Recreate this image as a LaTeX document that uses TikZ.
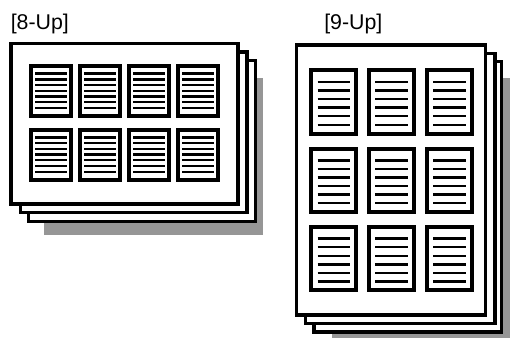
\documentclass[tikz,border=0pt]{standalone}
\usepackage{fontspec}
\setmainfont{Liberation Sans}
\definecolor{shadowgray}{RGB}{150,150,150}
\tikzset{
  sheet/.style={draw=black, fill=white, line width=2.6pt},
  shadowbox/.style={fill=shadowgray, draw=none},
  minipage/.style={draw=black, fill=white, line width=3pt},
  textline/.style={draw=black, line width=1.8pt},
  title/.style={anchor=base west, inner sep=0pt, font=\fontsize{16}{19}\selectfont}
}
\begin{document}
\begin{tikzpicture}[x=0.75pt, y=-0.75pt]
\useasboundingbox (0,0) rectangle (510,338);
% titles
\node[title] (t8) at (10.5,29.5) {[8-Up]};
\node[title] (t9) at (324,29.5) {[9-Up]};
% ---- 8-Up stack ----
\fill[shadowbox] (44.3,78.3) rectangle (262.7,235);
\draw[sheet] (28.7,60.3) rectangle (255.7,221.7);
\draw[sheet] (20.3,52) rectangle (247,212.7);
\draw[sheet] (11,43.5) rectangle (238,204);
\foreach \i in {0,...,3}{
  \foreach \j in {0,1}{
    \pgfmathsetmacro{\L}{31+49*\i}
    \pgfmathsetmacro{\T}{66+63.7*\j}
    \draw[minipage] (\L,\T) rectangle ++(39.5,50.3);
    \foreach \k in {0,...,6}{
      \draw[textline] (\L+4,\T+7.7+5.72*\k) -- ++(31.5,0);
    }
  }
}
% ---- 9-Up stack ----
\fill[shadowbox] (331.7,78.3) rectangle (510,338);
\draw[sheet] (314,61.7) rectangle (501.5,332);
\draw[sheet] (305.7,53.3) rectangle (495,323.3);
\draw[sheet] (296.7,45) rectangle (485.7,315);
\foreach \i in {0,1,2}{
  \foreach \j in {0,1,2}{
    \pgfmathsetmacro{\L}{311.3+57.85*\i}
    \pgfmathsetmacro{\T}{70.3+78.35*\j}
    \draw[minipage] (\L,\T) rectangle ++(44.7,63.4);
    \foreach \k in {0,...,5}{
      \draw[textline] (\L+6.3,\T+11.7+8.55*\k) -- ++(32.4,0);
    }
  }
}
\end{tikzpicture}
\end{document}
